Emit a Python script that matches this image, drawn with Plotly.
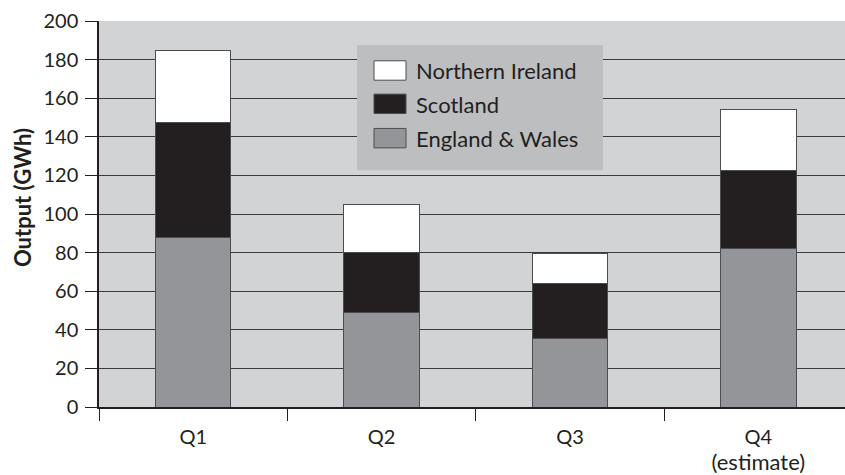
import plotly.graph_objects as go

# ---- data ----
quarters = ["Q1", "Q2", "Q3", "Q4"]
quarter_labels = ["Q1", "Q2", "Q3", "Q4<br><span style='font-size:22px'>(estimate)</span>"]
england_wales = [88, 49, 35.5, 82]
scotland = [59.5, 31, 28.5, 40.5]
northern_ireland = [37, 25, 15.5, 31.5]
series_names = ["Northern Ireland", "Scotland", "England & Wales"]
y_ticks = [0, 20, 40, 60, 80, 100, 120, 140, 160, 180, 200]
y_title = "Output (GWh)"

# ---- style ----
W, H = 845, 475
ML, MR, MT, MB = 99, 0, 21, 66
FONT = "Lato, Open Sans, sans-serif"
TXT = "#231f20"
COL_EW = "#939598"
COL_SC = "#231f20"
COL_NI = "#ffffff"
EDGE = "#4d4d4f"
PLOT_BG = "#d1d3d4"
LEG_BG = "#bcbec0"

fig = go.Figure()
for name, vals, col in [
    (series_names[2], england_wales, COL_EW),
    (series_names[1], scotland, COL_SC),
    (series_names[0], northern_ireland, COL_NI),
]:
    fig.add_trace(go.Bar(
        x=quarters, y=vals, name=name, width=0.40,
        marker=dict(color=col, line=dict(color=EDGE, width=1)),
        showlegend=False,
    ))

pw = W - ML - MR
ph = H - MT - MB

def px_x(x):
    return (x - ML) / pw

def px_y(y):
    return (H - MB - y) / ph

shapes = []
annotations = []
# legend box
shapes.append(dict(type="rect", xref="paper", yref="paper",
                   x0=px_x(357), x1=px_x(603), y0=px_y(171), y1=px_y(45),
                   fillcolor=LEG_BG, line=dict(width=0), layer="above"))
leg_items = [(series_names[0], COL_NI, 61), (series_names[1], COL_SC, 94.5), (series_names[2], COL_EW, 129)]
for name, col, top in leg_items:
    shapes.append(dict(type="rect", xref="paper", yref="paper",
                       x0=px_x(374), x1=px_x(406), y0=px_y(top + 19.5), y1=px_y(top),
                       fillcolor=col, line=dict(color=EDGE, width=1), layer="above"))
    annotations.append(dict(xref="paper", yref="paper", x=px_x(414), y=px_y(top + 10),
                            text=name, showarrow=False, xanchor="left", yanchor="middle",
                            font=dict(family=FONT, size=22, color=TXT)))
# y-axis title
annotations.append(dict(xref="paper", yref="paper", x=px_x(22), y=px_y(199),
                        text="<b>" + y_title + "</b>", textangle=-90, showarrow=False,
                        xanchor="center", yanchor="middle",
                        font=dict(family=FONT, size=22, color=TXT)))

fig.update_layout(
    width=W, height=H,
    margin=dict(l=ML, r=MR, t=MT, b=MB, pad=0),
    barmode="stack",
    paper_bgcolor="white",
    plot_bgcolor=PLOT_BG,
    font=dict(family=FONT, size=20, color=TXT),
    shapes=shapes,
    annotations=annotations,
    xaxis=dict(
        categoryorder="array", categoryarray=quarters,
        tickmode="array", tickvals=quarters, ticktext=quarter_labels,
        range=[-0.5, 3.46],
        showline=True, linecolor=TXT, linewidth=1.5,
        ticks="outside", tickson="boundaries", ticklen=12, tickcolor=TXT, tickwidth=1.2,
        showgrid=False, ticklabelstandoff=11,
        tickfont=dict(family=FONT, size=20, color=TXT),
    ),
    yaxis=dict(
        range=[0, 200], tickvals=y_ticks,
        showline=True, linecolor=TXT, linewidth=1.5,
        ticks="outside", ticklen=12, tickcolor=TXT, tickwidth=1.2,
        showgrid=True, gridcolor="#3a3a3a", gridwidth=1.2,
        zeroline=False, ticklabelstandoff=3,
        tickfont=dict(family=FONT, size=20, color=TXT),
    ),
)

fig.write_html("out.html", config={"displayModeBar": False},
               post_script="document.body.style.margin='0';document.body.style.overflow='hidden';")
